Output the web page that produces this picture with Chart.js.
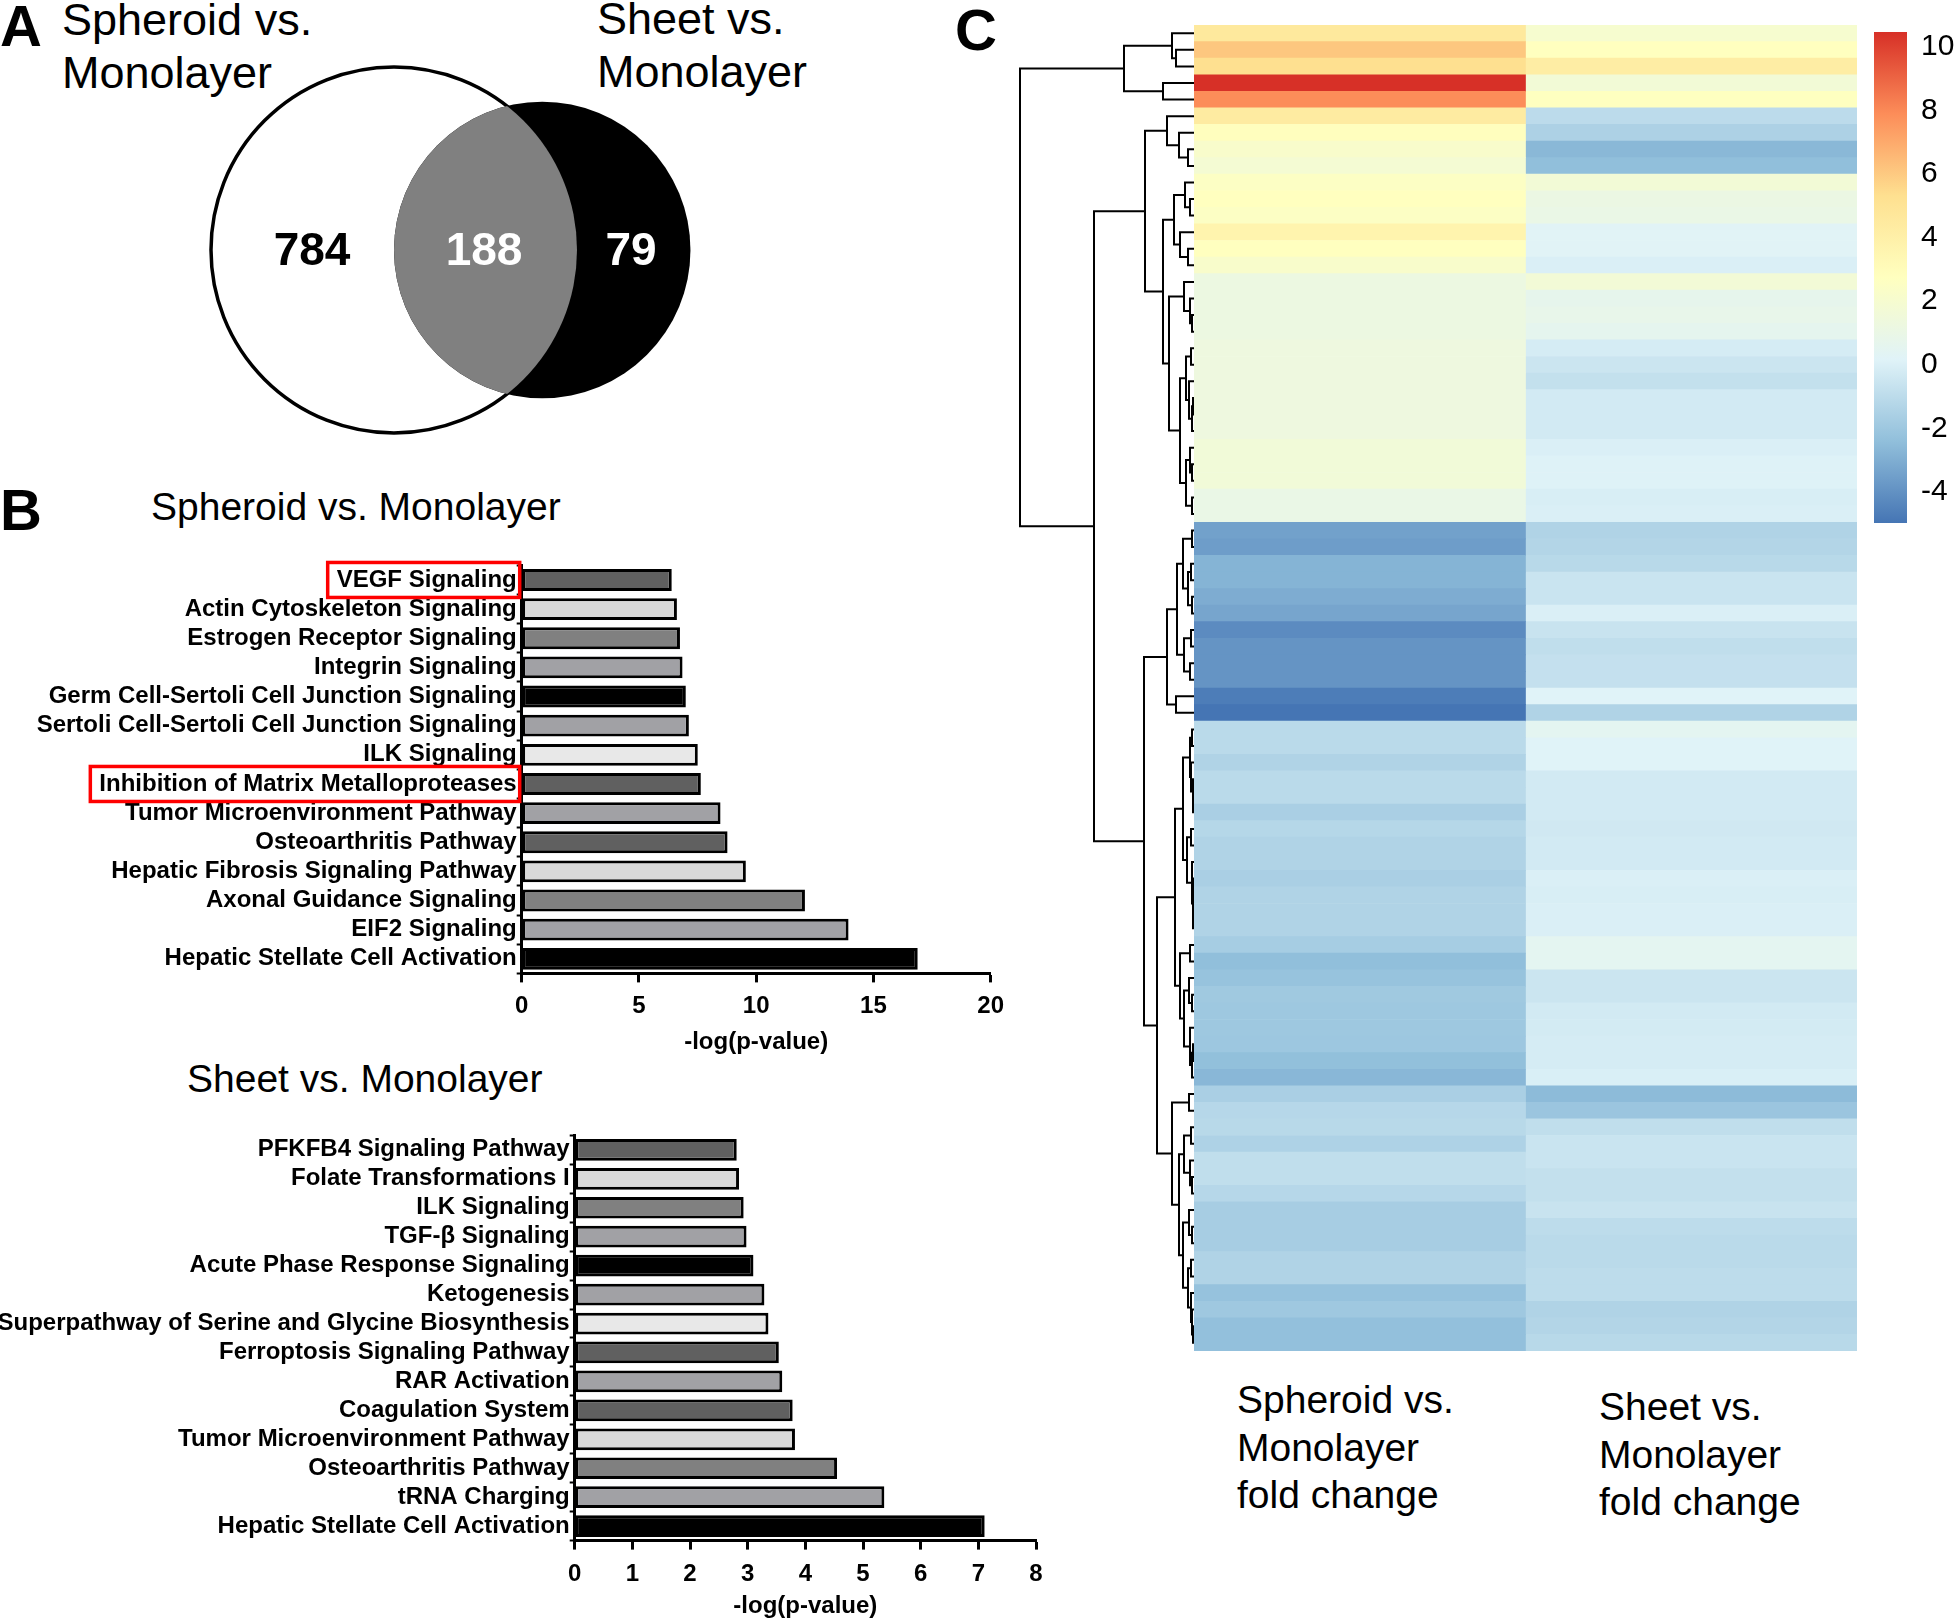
<!DOCTYPE html>
<html>
<head>
<meta charset="utf-8">
<script src="https://cdn.jsdelivr.net/npm/chart.js@4.4.1/dist/chart.umd.min.js"></script>
<style>
  body { margin: 0; background: #fff; width: 1956px; height: 1622px; position: relative; overflow: hidden;
         font-family: "Liberation Sans", Arial, sans-serif; color: #000; }
  canvas { position: absolute; }
  .txt { position: absolute; white-space: pre; }
  .panel { font-size: 58px; line-height: 58px; font-weight: bold; }
  .venn-title { font-size: 45px; line-height: 53px; }
  .bar-title { font-size: 39px; line-height: 39px; }
  .col-title { font-size: 39px; line-height: 47.5px; }
</style>
</head>
<body>

<div class="txt panel" style="left:0px; top:-3px;">A</div>
<div class="txt panel" style="left:0px; top:481px;">B</div>
<div class="txt panel" style="left:955px; top:1px;">C</div>

<div class="txt venn-title" style="left:62px; top:-7px;">Spheroid vs.
Monolayer</div>
<div class="txt venn-title" style="left:597px; top:-8px;">Sheet vs.
Monolayer</div>

<div class="txt bar-title" style="left:151px; top:487px;">Spheroid vs. Monolayer</div>
<div class="txt bar-title" style="left:187px; top:1059px;">Sheet vs. Monolayer</div>

<div class="txt col-title" style="left:1237px; top:1376px;">Spheroid vs.
Monolayer
fold change</div>
<div class="txt col-title" style="left:1599px; top:1383px;">Sheet vs.
Monolayer
fold change</div>

<canvas id="venn" width="980" height="450" style="left:0px; top:0px;"></canvas>
<canvas id="barSpheroid" width="1014" height="509" style="left:0px; top:551px;"></canvas>
<canvas id="barSheet" width="1056" height="501" style="left:0px; top:1121px;"></canvas>
<canvas id="dendro" width="189" height="1326" style="left:1005px; top:25px;"></canvas>
<canvas id="heat" width="663" height="1326" style="left:1194px; top:25px;"></canvas>
<canvas id="colorbar" width="82" height="560" style="left:1874px; top:0px;"></canvas>

<script>
// ---- Panel A: Venn counts
const vennRegions = ['Spheroid only', 'Both', 'Sheet only'];
const vennCounts = [784, 188, 79];

// ---- Panel B: IPA pathways, -log(p-value)
const spheroidPathways = [
    'VEGF Signaling', 'Actin Cytoskeleton Signaling', 'Estrogen Receptor Signaling', 'Integrin Signaling',
    'Germ Cell-Sertoli Cell Junction Signaling', 'Sertoli Cell-Sertoli Cell Junction Signaling', 'ILK Signaling',
    'Inhibition of Matrix Metalloproteases', 'Tumor Microenvironment Pathway', 'Osteoarthritis Pathway',
    'Hepatic Fibrosis Signaling Pathway', 'Axonal Guidance Signaling', 'EIF2 Signaling', 'Hepatic Stellate Cell Activation'
];
const spheroidLogP = [6.40, 6.62, 6.75, 6.86, 7.00, 7.13, 7.51, 7.64, 8.48, 8.78, 9.56, 12.08, 13.94, 16.89];

const sheetPathways = [
    'PFKFB4 Signaling Pathway', 'Folate Transformations I', 'ILK Signaling', 'TGF-β Signaling',
    'Acute Phase Response Signaling', 'Ketogenesis', 'Superpathway of Serine and Glycine Biosynthesis',
    'Ferroptosis Signaling Pathway', 'RAR Activation', 'Coagulation System', 'Tumor Microenvironment Pathway',
    'Osteoarthritis Pathway', 'tRNA Charging', 'Hepatic Stellate Cell Activation'
];
const sheetLogP = [2.81, 2.85, 2.93, 2.98, 3.10, 3.29, 3.36, 3.54, 3.60, 3.78, 3.82, 4.55, 5.37, 7.11];

const highlighted = ['VEGF Signaling', 'Inhibition of Matrix Metalloproteases'];
const spheroidTicks = [0, 5, 10, 15, 20];
const sheetTicks = [0, 1, 2, 3, 4, 5, 6, 7, 8];

// ---- Panel C: fold changes per gene (rows top to bottom)
const spheroidFC = [
    4.6, 6.1, 5.3, 10.47, 7.9,
    4.4, 2.8, 2.2, 1.85,
    2.5, 2.75, 2.5, 3.7, 2.75, 2.2,
    1.2, 1.2, 1.2, 1.2, 1.3, 1.3, 1.3, 1.3, 1.3, 1.3, 1.6, 1.6, 1.6, 1.0, 1.0,
    -3.45, -3.6, -2.8, -2.8, -3.05, -3.3, -4.2, -3.9, -3.9, -3.9, -4.7, -4.98,
    -1.07, -1.07, -1.4, -1.07, -1.07, -1.6, -1.23, -1.4, -1.4, -1.6, -1.4, -1.4, -1.4,
    -1.73, -2.4, -2.22, -1.93, -1.98, -1.98, -2.0, -2.37, -2.69,
    -1.6, -1.2, -1.13, -1.46, -0.87, -0.87, -1.2, -1.7, -1.7, -1.7, -1.4, -1.4, -2.25, -1.96, -2.35, -2.35
];
const sheetFC = [
    2.0, 2.75, 4.2, 1.7, 2.7,
    -1.0, -1.5, -2.65, -2.4,
    1.7, 1.1, 1.0, 0.25, 0.25, -0.03,
    1.7, 0.7, 0.8, 0.6, -0.2, -0.52, -0.78, -0.3, -0.3, -0.3, -0.03, 0.1, 0.1, -0.1, -0.03,
    -1.4, -1.3, -1.13, -0.58, -0.58, -0.03, -0.6, -0.87, -0.75, -0.75, 0.17, -1.4,
    0.5, 0.17, 0.17, -0.3, -0.3, -0.3, -0.35, -0.3, -0.3, -0.03, -0.1, -0.03, -0.03,
    0.5, 0.5, -0.52, -0.52, -0.3, -0.25, -0.2, -0.2, -0.05,
    -2.55, -2.09, -0.87, -0.58, -0.58, -0.78, -0.78, -0.6, -0.97, -1.07, -1.07, -0.97, -0.97, -1.4, -1.3, -1.13
];
const heatColumns = ['Spheroid vs. Monolayer fold change', 'Sheet vs. Monolayer fold change'];
const geneRows = spheroidFC.map((v, i) => 'gene ' + (i + 1));
const colorRange = [-4.98, 10.47];
const colorTicks = [-4, -2, 0, 2, 4, 6, 8, 10];

// row clustering: [merge height, child, child]; leaves are row numbers
const dendrogram =
[174,
  [70, [22, 0, [18, 1, 2]], [31, 3, 4]],
  [100,
    [49,
      [27, 5, [15, 6, [6, 7, 8]]],
      [31,
        [20, [9, 9, [4, 10, 11]], [14, 12, [6, 13, 14]]],
        [25,
          [10, 15, [4, 16, [2, 17, 18]]],
          [14,
            [8, [3, 19, 20], [5, 21, [2, [1, 22, 23], 24]]],
            [8, [4, 25, [2, 26, 27]], [2, 28, 29]]]]]],
    [50,
      [27,
        [17,
          [11, [2, 30, 31], [6, [3, 32, 33], [2, 34, 35]]],
          [10, [3, 36, 37], [4, 38, 39]]],
        [18, 40, 41]],
      [37,
        [19,
          [11,
            [4, [2, 42, 43], [3, 44, [1, 45, [1, 46, 47]]]],
            [7, [3, 48, 49], [2, 50, [1, [1, 51, 52], [1, 53, 54]]]]],
          [14,
            [4, 55, 56],
            [10, [5, 57, [2, 58, 59]], [4, 60, [2, [1, 61, 62], 63]]]]],
        [22,
          [5, 64, 65],
          [15,
            [10, [3, 66, 67], [4, 68, [2, 69, 70]]],
            [11, [5, 71, [2, 72, 73]], [6, [3, 74, 75], [3, 76, [2, 77, [1, 78, 79]]]]]]]]]]];

// ---- styles
const barShades = ['#606060', '#d9d9d9', '#808080', '#a1a1a5', '#000000', '#a1a1a5', '#e8e8e8',
                   '#606060', '#a1a1a5', '#606060', '#d9d9d9', '#808080', '#a1a1a5', '#000000'];
const palette = ['#4575B4', '#91BFDB', '#E0F3F8', '#FFFFBF', '#FEE090', '#FC8D59', '#D73027'];
const FONT = "'Liberation Sans', Arial, sans-serif";

Chart.defaults.font.family = FONT;
Chart.defaults.color = '#000';
Chart.defaults.animation = false;
Chart.defaults.plugins.legend.display = false;
Chart.defaults.plugins.tooltip.enabled = false;

function hexToRgb(h) {
    return [parseInt(h.slice(1, 3), 16), parseInt(h.slice(3, 5), 16), parseInt(h.slice(5, 7), 16)];
}
const paletteRgb = palette.map(hexToRgb);

// same as colorRampPalette(rev(brewer.pal(7, "RdYlBu"))) over the data range
function fcColor(v) {
    let t = (v - colorRange[0]) / (colorRange[1] - colorRange[0]);
    t = Math.min(1, Math.max(0, t)) * (palette.length - 1);
    const i = Math.min(palette.length - 2, Math.floor(t));
    const f = t - i;
    const a = paletteRgb[i], b = paletteRgb[i + 1];
    const c = a.map((x, k) => Math.round(x + (b[k] - x) * f));
    return `rgb(${c[0]},${c[1]},${c[2]})`;
}

// ---------- Venn (panel A)
// circle geometry in units of the spheroid circle radius
const vennLayout = { a: { x: 0, r: 1 }, b: { x: 0.81, r: 0.81 }, labelX: [-0.448, 0.492, 1.295] };
const vennTextColors = ['#000', '#fff', '#fff'];

const vennPlugin = {
    id: 'vennCircles',
    beforeDatasetsDraw(chart) {
        const { ctx, scales: { x, y } } = chart;
        const unit = x.getPixelForValue(1) - x.getPixelForValue(0);
        const cy = y.getPixelForValue(0);
        const ax = x.getPixelForValue(vennLayout.a.x), ar = vennLayout.a.r * unit;
        const bx = x.getPixelForValue(vennLayout.b.x), br = vennLayout.b.r * unit;
        ctx.save();
        ctx.beginPath();
        ctx.arc(ax, cy, ar, 0, Math.PI * 2);
        ctx.fillStyle = '#fff';
        ctx.fill();
        ctx.lineWidth = 3.5;
        ctx.strokeStyle = '#000';
        ctx.stroke();
        ctx.beginPath();
        ctx.arc(bx, cy, br, 0, Math.PI * 2);
        ctx.fillStyle = '#000';
        ctx.fill();
        // overlap
        ctx.beginPath();
        ctx.arc(ax, cy, ar, 0, Math.PI * 2);
        ctx.clip();
        ctx.beginPath();
        ctx.arc(bx, cy, br, 0, Math.PI * 2);
        ctx.fillStyle = '#808080';
        ctx.fill();
        ctx.restore();
    },
    afterDatasetsDraw(chart) {
        const { ctx } = chart;
        const meta = chart.getDatasetMeta(0);
        ctx.save();
        ctx.font = 'bold 46px ' + FONT;
        ctx.textAlign = 'center';
        ctx.textBaseline = 'middle';
        meta.data.forEach((pt, i) => {
            ctx.fillStyle = vennTextColors[i];
            ctx.fillText(String(vennCounts[i]), pt.x, pt.y + 2);
        });
        ctx.restore();
    }
};

new Chart(document.getElementById('venn'), {
    type: 'scatter',
    data: {
        datasets: [{
            label: 'genes',
            data: vennCounts.map((c, i) => ({ x: vennLayout.labelX[i], y: 0 })),
            pointRadius: 0
        }]
    },
    options: {
        responsive: false,
        layout: { padding: 0 },
        scales: {
            x: { display: false, min: -394 / 183, max: (980 - 394) / 183 },
            y: { display: false, min: -200 / 183, max: 250 / 183 }
        }
    },
    plugins: [vennPlugin]
});

// ---------- Bar charts (panel B)
const highlightPlugin = {
    id: 'highlightLabels',
    afterDraw(chart) {
        const { ctx } = chart;
        const yScale = chart.scales.y;
        ctx.save();
        ctx.font = 'bold 24px ' + FONT;
        ctx.strokeStyle = '#ff0000';
        ctx.lineWidth = 3.5;
        highlighted.forEach(name => {
            const idx = chart.data.labels.indexOf(name);
            if (idx < 0) return;
            const yc = yScale.getPixelForValue(idx);
            const w = ctx.measureText(name).width;
            const right = yScale.right - 2;
            const left = right - w - 12;
            ctx.strokeRect(left, yc - 17.5, right - left, 35);
        });
        ctx.restore();
    }
};

function pathwayChart(id, labels, values, maxX, ticks, axisLeft, chartTop, chartBottom, titleY, plugins) {
    const canvas = document.getElementById(id);
    const top = parseFloat(canvas.style.top);
    const xAxisHeight = titleY + 14.4 - chartBottom;
    const padBottom = top + canvas.height - chartBottom - xAxisHeight;
    return new Chart(canvas, {
        type: 'bar',
        data: {
            labels: labels,
            datasets: [{
                label: '-log(p-value)',
                data: values,
                backgroundColor: barShades,
                borderColor: '#000',
                borderWidth: 3,
                borderSkipped: false,
                barPercentage: 0.75,
                categoryPercentage: 1
            }]
        },
        options: {
            responsive: false,
            indexAxis: 'y',
            layout: { padding: { top: chartTop - top, right: 20, bottom: padBottom, left: 0 } },
            scales: {
                x: {
                    type: 'linear', min: 0, max: maxX,
                    afterBuildTicks: s => { s.ticks = ticks.map(v => ({ value: v })); },
                    ticks: { font: { size: 24, weight: 'bold' }, padding: 10, color: '#000' },
                    grid: { display: true, drawOnChartArea: false, drawTicks: true, tickLength: 9, tickWidth: 3, tickColor: '#000' },
                    border: { display: true, color: '#000', width: 3 },
                    title: { display: true, text: '-log(p-value)', font: { size: 24, weight: 'bold' }, padding: { top: 0, bottom: 0 } },
                    afterFit: s => { s.height = xAxisHeight; }
                },
                y: {
                    ticks: { autoSkip: false, font: { size: 24, weight: 'bold' }, padding: 0, color: '#000' },
                    grid: { display: true, drawOnChartArea: false, drawTicks: true, tickLength: 5, tickWidth: 2, tickColor: '#000' },
                    border: { display: true, color: '#000', width: 3 },
                    afterFit: s => { s.width = axisLeft; }
                }
            }
        },
        plugins: plugins || []
    });
}

pathwayChart('barSpheroid', spheroidPathways, spheroidLogP, 20, spheroidTicks, 521.7, 561.3, 973.4, 1042, [highlightPlugin]);
pathwayChart('barSheet', sheetPathways, sheetLogP, 8, sheetTicks, 574.7, 1131.4, 1540.6, 1606.6);

// ---------- Heatmap (panel C)
new Chart(document.getElementById('heat'), {
    type: 'bar',
    data: {
        labels: geneRows,
        datasets: [
            {
                label: heatColumns[0],
                data: spheroidFC.map(() => [0, 1]),
                backgroundColor: spheroidFC.map(fcColor),
                grouped: false, barPercentage: 1, categoryPercentage: 1, borderWidth: 0
            },
            {
                label: heatColumns[1],
                data: sheetFC.map(() => [1, 2]),
                backgroundColor: sheetFC.map(fcColor),
                grouped: false, barPercentage: 1, categoryPercentage: 1, borderWidth: 0
            }
        ]
    },
    options: {
        responsive: false,
        indexAxis: 'y',
        layout: { padding: 0 },
        scales: {
            x: { display: false, min: 0, max: 2 },
            y: { display: false }
        }
    }
});

// dendrogram as one broken line
function dendroPoints(node, pts) {
    if (typeof node === 'number') return { y: node, h: 0 };
    const h = node[0];
    const kids = node.slice(1).map(k => dendroPoints(k, pts));
    const a = kids[0], b = kids[kids.length - 1];
    pts.push({ x: a.h, y: a.y }, { x: h, y: a.y }, { x: h, y: b.y }, { x: b.h, y: b.y }, { x: NaN, y: NaN });
    return { y: (a.y + b.y) / 2, h: h };
}
const dendroPts = [];
dendroPoints(dendrogram, dendroPts);

new Chart(document.getElementById('dendro'), {
    type: 'scatter',
    data: {
        datasets: [{
            label: 'row clustering',
            data: dendroPts,
            showLine: true,
            spanGaps: false,
            pointRadius: 0,
            borderColor: '#000',
            borderWidth: 2,
            borderJoinStyle: 'miter',
            borderCapStyle: 'butt'
        }]
    },
    options: {
        responsive: false,
        layout: { padding: 0 },
        scales: {
            x: { display: false, type: 'linear', min: 0, max: 189, reverse: true },
            y: { display: false, type: 'linear', min: -0.5, max: geneRows.length - 0.5, reverse: true }
        }
    }
});

// colour key
new Chart(document.getElementById('colorbar'), {
    type: 'bar',
    data: {
        labels: ['key'],
        datasets: [{
            label: 'fold change',
            data: [colorRange],
            barPercentage: 1, categoryPercentage: 1, borderWidth: 0,
            backgroundColor: (c) => {
                const chart = c.chart;
                const area = chart.chartArea;
                if (!area) return palette[3];
                const ys = chart.scales.y;
                const g = chart.ctx.createLinearGradient(0, ys.getPixelForValue(colorRange[0]), 0, ys.getPixelForValue(colorRange[1]));
                palette.forEach((col, i) => g.addColorStop(i / (palette.length - 1), col));
                return g;
            }
        }]
    },
    options: {
        responsive: false,
        layout: { padding: { top: 25, bottom: 37, left: 0, right: 0 } },
        scales: {
            x: { display: false },
            y: {
                position: 'right', min: colorRange[0], max: colorRange[1],
                afterBuildTicks: s => { s.ticks = colorTicks.map(v => ({ value: v })); },
                ticks: { font: { size: 30 }, padding: 14, color: '#000' },
                grid: { display: false, drawTicks: false },
                border: { display: false },
                afterFit: s => { s.width = 49; }
            }
        }
    }
});
</script>
</body>
</html>
